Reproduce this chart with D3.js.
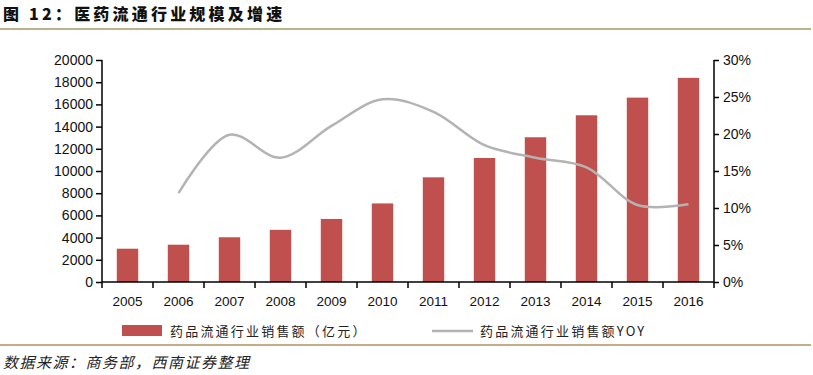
<!DOCTYPE html>
<html><head><meta charset="utf-8">
<script src="https://cdn.jsdelivr.net/npm/d3@7"></script>
<style>
body{margin:0;background:#fff;}
svg{display:block;}
</style></head>
<body>
<svg id="chart" width="813" height="375"></svg>
<script>
const years = ["2005","2006","2007","2008","2009","2010","2011","2012","2013","2014","2015","2016"];
const sales = [3000,3360,4030,4700,5680,7080,9430,11170,13040,15020,16610,18390];
const yoyYears = ["2006","2007","2008","2009","2010","2011","2012","2013","2014","2015","2016"];
const yoy = [12.0,19.9,16.8,21.1,24.7,23.0,18.5,16.8,15.5,10.4,10.5];
const leftTicks = [0,2000,4000,6000,8000,10000,12000,14000,16000,18000,20000];
const rightTicks = [0,5,10,15,20,25,30];
const title = "图 12：医药流通行业规模及增速";
const legendLabels = ["药品流通行业销售额（亿元）","药品流通行业销售额YOY"];
const source = "数据来源：商务部，西南证券整理";

const svg = d3.select("#chart");
const L = 102, R = 714, T = 60, B = 282;
const x = d3.scaleBand().domain(years).range([L, R]).paddingInner(0.58).paddingOuter(0.29);
const xb = d3.scaleBand().domain(years).range([L, R]);
const yL = d3.scaleLinear().domain([0,20000]).range([B, T]);
const yR = d3.scaleLinear().domain([0,30]).range([B, T]);

const cjk = "'Noto Sans CJK SC', sans-serif";
const num = "'Liberation Sans', Arial, sans-serif";

// title + rules
svg.append("text").attr("x",3).attr("y",20).attr("font-family",cjk).attr("font-weight",900)
  .attr("font-size",16).attr("letter-spacing",3.2).attr("fill","#111").text(title);
svg.append("line").attr("x1",0).attr("x2",811).attr("y1",29).attr("y2",29).attr("stroke","#b9b28c").attr("stroke-width",2);
svg.append("line").attr("x1",0).attr("x2",811).attr("y1",345).attr("y2",345).attr("stroke","#c4ad88").attr("stroke-width",2);
svg.append("text").attr("x",3).attr("y",368).attr("font-family",cjk).attr("font-style","italic")
  .attr("font-size",15).attr("letter-spacing",1.5).attr("fill","#222").attr("transform","skewX(0)").text(source);

// bars
svg.append("g").selectAll("rect").data(years).join("rect")
  .attr("x", d => x(d)).attr("width", x.bandwidth())
  .attr("y", (d,i) => yL(sales[i])).attr("height", (d,i) => B - yL(sales[i]))
  .attr("fill","#c0504d");

// line
const line = d3.line().x((d,i) => xb(yoyYears[i]) + xb.bandwidth()/2).y(d => yR(d)).curve(d3.curveCatmullRom.alpha(0.5));
svg.append("path").datum(yoy).attr("d", line).attr("fill","none").attr("stroke","#b3b3b3").attr("stroke-width",2.5);

// axes
const axL = svg.append("g").attr("transform",`translate(${L},0)`).call(d3.axisLeft(yL).tickValues(leftTicks).tickSize(6).tickPadding(3).tickFormat(d3.format("d")));
const axR = svg.append("g").attr("transform",`translate(${R},0)`).call(d3.axisRight(yR).tickValues(rightTicks).tickSize(5).tickPadding(4).tickFormat(d => d + "%"));
const axB = svg.append("g").attr("transform",`translate(0,${B})`).call(d3.axisBottom(xb).tickSize(0).tickPadding(14));
// bottom ticks at band boundaries
const bounds = years.map(d => xb(d)).concat([R]);
svg.append("g").selectAll("line").data(bounds).join("line")
  .attr("x1", d => d).attr("x2", d => d).attr("y1", B).attr("y2", B + 6)
  .attr("stroke","#000").attr("stroke-width",1.5);
[axL, axR, axB].forEach(a => {
  a.selectAll(".domain").attr("stroke","#000").attr("stroke-width",1.5);
  a.selectAll(".tick line").attr("stroke","#000").attr("stroke-width",1.5);
  a.selectAll("text").attr("font-family",num).attr("font-size",14).attr("fill","#111");
});
axB.selectAll("text").attr("font-size",13.5);
axL.select(".domain").attr("d",`M-0,${T}V${B}`);
axR.select(".domain").attr("d",`M0,${T}V${B}`);
axB.select(".domain").attr("d",`M${L},0H${R}`);

// legend
svg.append("rect").attr("x",122).attr("y",325).attr("width",40).attr("height",11).attr("fill","#c0504d");
svg.append("text").attr("x",170).attr("y",336).attr("font-family",cjk).attr("font-size",13).attr("letter-spacing",2.2).attr("fill","#222").text(legendLabels[0]);
svg.append("line").attr("x1",432).attr("x2",473).attr("y1",331).attr("y2",331).attr("stroke","#b3b3b3").attr("stroke-width",2.5);
svg.append("text").attr("x",480).attr("y",336).attr("font-family",cjk).attr("font-size",13).attr("letter-spacing",2.2).attr("fill","#222").text(legendLabels[1]);
</script>
</body></html>
